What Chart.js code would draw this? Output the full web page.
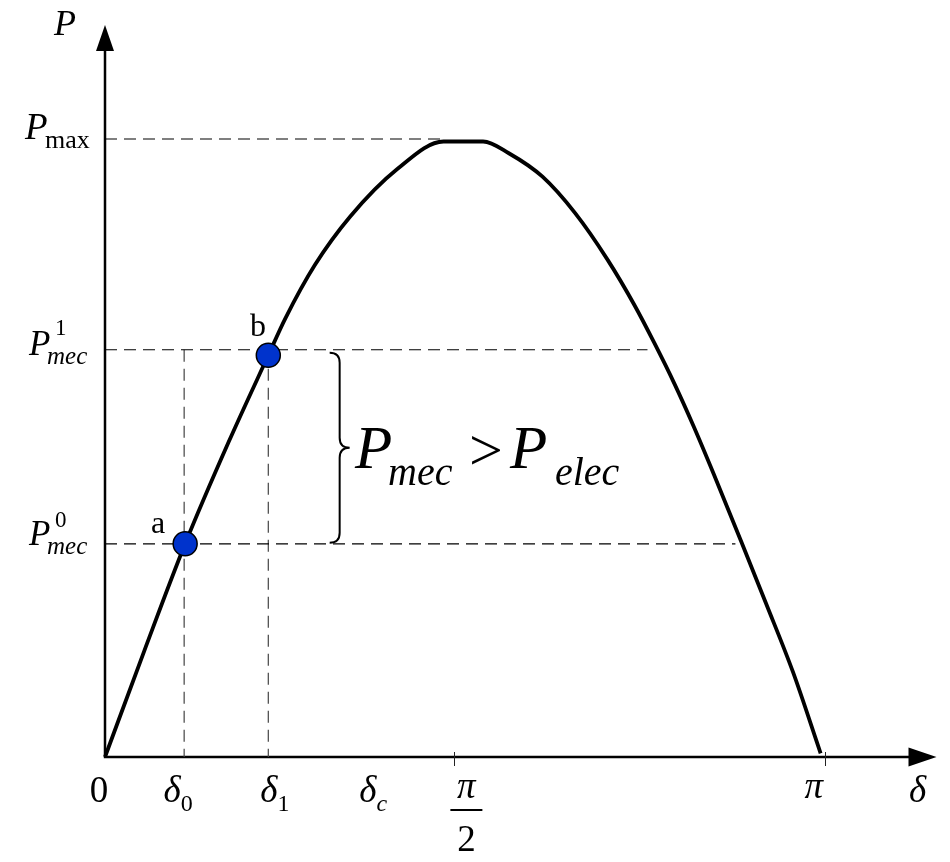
<!DOCTYPE html>
<html>
<head>
<meta charset="utf-8">
<title>P - δ</title>
<script src="https://cdn.jsdelivr.net/npm/chart.js@4.4.1/dist/chart.umd.min.js"></script>
<style>
  html, body { margin: 0; padding: 0; background: #fff; }
  #wrap { width: 950px; height: 862px; }
</style>
</head>
<body>
<div id="wrap"><canvas id="powerChart" width="950" height="862"></canvas></div>
<script>
// power-angle curve, delta in degrees, P in per unit of Pmax
const curveDelta = [0, 9.9, 20.05, 30.95, 40.85, 45.06, 52.49, 61.4, 73.04, 84.68, 94.58,
    101.02, 109.44, 117.61, 125.78, 132.46, 137.41, 142.37, 147.32, 152.27, 159.2, 165.39, 172.07, 179.01];
const curveP = [0, 0.173, 0.345, 0.510, 0.650, 0.709, 0.796, 0.875, 0.951, 0.996, 0.996,
    0.977, 0.939, 0.880, 0.804, 0.731, 0.670, 0.605, 0.534, 0.458, 0.348, 0.248, 0.138, 0.006];

// operating points a and b
const pointNames = ['a', 'b'];
const pointDelta = [20.05, 40.85];
const pointP = [0.345, 0.650];

// power levels and where their guide lines stop
const levelP = [1.0, 0.659, 0.345];      // Pmax, Pmec1, Pmec0
const levelEnd = [84.7, 135.7, 157.7];

// vertical guides at delta0 and delta1
const guideDelta = [19.8, 40.85];
const guideTop = 0.659;

// axis ticks and labels
const tickDelta = [87.2, 180];
const xLabels = ['0', 'δ|0', 'δ|1', 'δ|c', 'π/2', 'π', 'δ'];
const xLabelAt = [-1.5, 18.3, 42.5, 67.1, 90.4, 177.3, 203.3];

const SERIF = '"Liberation Serif", "Times New Roman", serif';

const guideSets = [];
levelP.forEach((p, i) => {
    guideSets.push({
        data: [{ x: 0, y: p }, { x: levelEnd[i], y: p }],
        borderColor: '#000', borderWidth: 1.2, borderDash: [12, 7],
        showLine: true, pointRadius: 0, clip: false
    });
});
guideDelta.forEach((d) => {
    guideSets.push({
        data: [{ x: d, y: guideTop }, { x: d, y: 0 }],
        borderColor: '#444', borderWidth: 1.2, borderDash: [12, 7],
        showLine: true, pointRadius: 0, clip: false
    });
});

function italic(size) { return 'italic ' + size + 'px ' + SERIF; }
function upright(size) { return size + 'px ' + SERIF; }

// symbol with a sub/superscript, drawn left-aligned at x
function drawSym(ctx, x, y, main, mainFont, sub, subFont, dx, dy) {
    ctx.font = mainFont;
    ctx.fillText(main, x, y);
    if (sub) {
        ctx.font = subFont;
        ctx.fillText(sub, x + dx, y + dy);
    }
}

const decorations = {
    id: 'decorations',
    beforeDatasetsDraw(chart) {
        const { ctx, scales: { x, y } } = chart;
        const x0 = x.getPixelForValue(0), y0 = y.getPixelForValue(0);
        const xEnd = x.right, yEnd = y.top;
        ctx.save();
        ctx.strokeStyle = '#000';
        ctx.fillStyle = '#000';
        ctx.lineWidth = 2.5;
        // axes
        ctx.beginPath();
        ctx.moveTo(x0, y0);
        ctx.lineTo(x0, yEnd + 25);
        ctx.moveTo(x0 - 1.2, y0);
        ctx.lineTo(xEnd - 27, y0);
        ctx.stroke();
        // arrow heads
        ctx.beginPath();
        ctx.moveTo(x0, yEnd);
        ctx.lineTo(x0 - 9, yEnd + 26);
        ctx.lineTo(x0 + 9, yEnd + 26);
        ctx.closePath();
        ctx.fill();
        ctx.beginPath();
        ctx.moveTo(xEnd, y0);
        ctx.lineTo(xEnd - 28, y0 - 9.5);
        ctx.lineTo(xEnd - 28, y0 + 9.5);
        ctx.closePath();
        ctx.fill();
        // ticks at pi/2 and pi
        ctx.lineWidth = 1;
        ctx.strokeStyle = '#222';
        tickDelta.forEach((d) => {
            const px = Math.round(x.getPixelForValue(d)) + 0.5;
            ctx.beginPath();
            ctx.moveTo(px, y0 - 5);
            ctx.lineTo(px, y0 + 9);
            ctx.stroke();
        });
        ctx.restore();
    },
    afterDatasetsDraw(chart) {
        const { ctx, scales: { x, y } } = chart;
        ctx.save();
        ctx.fillStyle = '#000';
        ctx.strokeStyle = '#000';
        ctx.textBaseline = 'alphabetic';
        ctx.textAlign = 'left';

        // y axis labels
        drawSym(ctx, 54, 35, 'P', italic(36));
        const yMax = y.getPixelForValue(levelP[0]);
        drawSym(ctx, 25, yMax, 'P', italic(37), 'max', upright(26), 20, 9);
        const y1 = y.getPixelForValue(levelP[1]);
        drawSym(ctx, 29, y1 + 5, 'P', italic(35), 'mec', italic(25), 18, 9);
        ctx.font = upright(23);
        ctx.fillText('1', 55, y1 - 15);
        const y0 = y.getPixelForValue(levelP[2]);
        drawSym(ctx, 29, y0 + 1, 'P', italic(35), 'mec', italic(25), 18, 9);
        ctx.font = upright(23);
        ctx.fillText('0', 55, y0 - 17);

        // point names
        ctx.font = upright(32);
        ctx.fillText(pointNames[0], 151, y.getPixelForValue(pointP[0]) - 11);
        ctx.fillText(pointNames[1], 250, y.getPixelForValue(pointP[1]) - 19);

        // x axis labels
        const base = y.getPixelForValue(0) + 45;
        const big = 37;
        xLabels.forEach((lab, i) => {
            const cx = x.getPixelForValue(xLabelAt[i]);
            if (lab.includes('|')) {
                const [m, s] = lab.split('|');
                const subFont = s === 'c' ? italic(24) : upright(24);
                ctx.font = italic(big);
                const mw = ctx.measureText(m).width;
                ctx.font = subFont;
                const sw = ctx.measureText(s).width;
                drawSym(ctx, cx - (mw + sw) / 2, base, m, italic(big), s, subFont, mw, 9);
            } else if (lab === 'π/2') {
                ctx.textAlign = 'center';
                ctx.font = italic(big);
                ctx.fillText('π', cx, base - 4);
                ctx.fillRect(cx - 16, base + 7, 32, 2);
                ctx.font = upright(big);
                ctx.fillText('2', cx, base + 49);
                ctx.textAlign = 'left';
            } else {
                ctx.textAlign = 'center';
                ctx.font = /[0-9]/.test(lab) ? upright(big) : italic(big);
                ctx.fillText(lab, cx, base - (lab === 'π' ? 4 : 0));
                ctx.textAlign = 'left';
            }
        });

        // brace spanning Pmec0 .. Pmec1
        const top = y1 + 3, bot = y0 - 1, mid = (top + bot) / 2;
        const xs = x.getPixelForValue(58.7), xo = xs - 10, xt = xs + 10, r = 10;
        ctx.lineWidth = 2;
        ctx.beginPath();
        ctx.moveTo(xo, top);
        ctx.quadraticCurveTo(xs, top, xs, top + r);
        ctx.lineTo(xs, mid - r);
        ctx.quadraticCurveTo(xs, mid, xt, mid);
        ctx.quadraticCurveTo(xs, mid, xs, mid + r);
        ctx.lineTo(xs, bot - r);
        ctx.quadraticCurveTo(xs, bot, xo, bot);
        ctx.stroke();

        // Pmec > Pelec
        drawSym(ctx, 355, 468, 'P', italic(61), 'mec', italic(40), 33, 17);
        ctx.font = upright(60);
        ctx.fillText('>', 469, 470);
        drawSym(ctx, 510, 468, 'P', italic(61), 'elec', italic(40), 45, 17);
        ctx.restore();
    }
};

const ctx = document.getElementById('powerChart').getContext('2d');
const powerChart = new Chart(ctx, {
    type: 'scatter',
    data: {
        datasets: [
            {
                data: pointDelta.map((d, i) => ({ x: d, y: pointP[i] })),
                backgroundColor: '#0033cc',
                borderColor: '#000',
                borderWidth: 1.5,
                pointRadius: 12,
                showLine: false,
                clip: false
            },
            {
                data: curveDelta.map((d, i) => ({ x: d, y: curveP[i] })),
                borderColor: '#000',
                borderWidth: 3.8,
                showLine: true,
                cubicInterpolationMode: 'monotone',
                pointRadius: 0,
                clip: false
            },
            ...guideSets
        ]
    },
    options: {
        responsive: false,
        devicePixelRatio: 1,
        animation: false,
        layout: { padding: { left: 105, right: 5, top: 25, bottom: 105 } },
        plugins: { legend: { display: false }, tooltip: { enabled: false } },
        scales: {
            x: { type: 'linear', min: 0, max: 208, display: false },
            y: { type: 'linear', min: 0, max: 1.1845, display: false }
        }
    },
    plugins: [decorations]
});
</script>
</body>
</html>
